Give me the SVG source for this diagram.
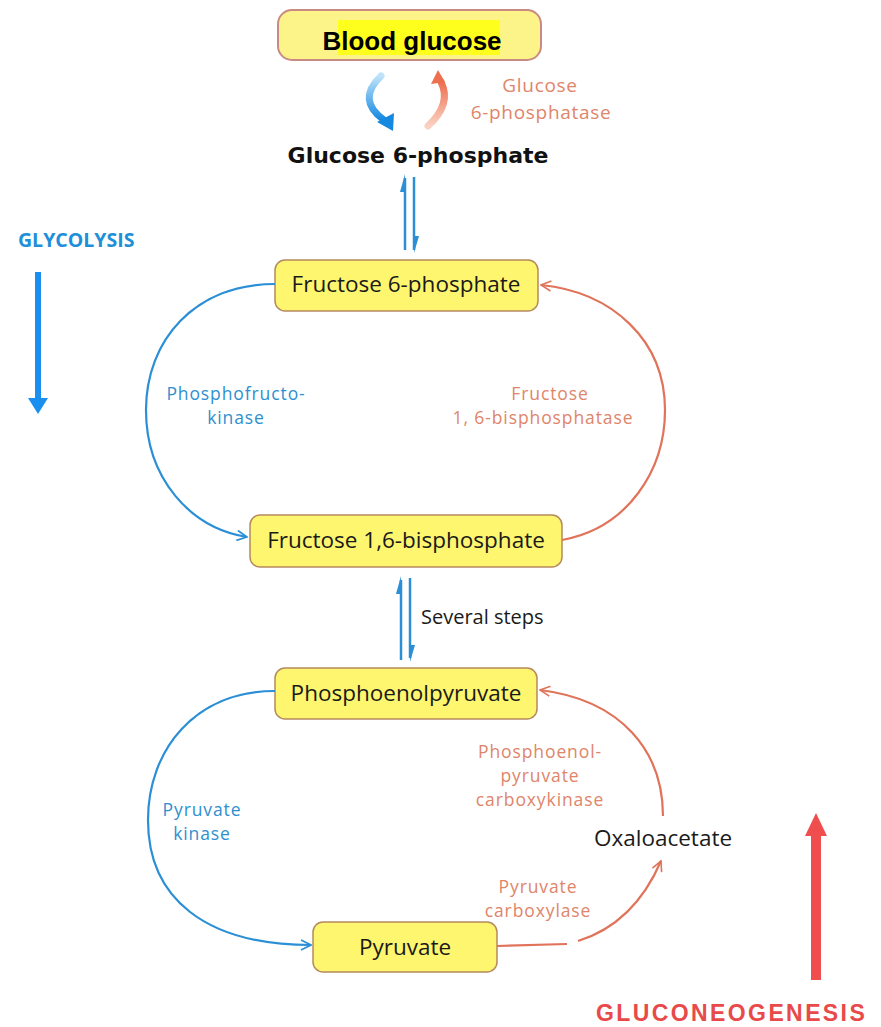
<svg xmlns="http://www.w3.org/2000/svg" width="881" height="1027" viewBox="0 0 881 1027">
<style>
.box{fill:#fdf66e;stroke:#b58a5e;stroke-width:1.5}
.bt{font-family:"Open Sans","Noto Sans",sans-serif;font-size:22.5px;fill:#1a1a1a;text-anchor:middle}
.bl{font-family:"Open Sans","Noto Sans",sans-serif;font-size:17.5px;letter-spacing:0.9px;fill:#2e8fd0;text-anchor:middle}
.or{font-family:"Open Sans","Noto Sans",sans-serif;font-size:17.5px;letter-spacing:0.9px;fill:#e0856a;text-anchor:middle}
.cb{fill:none;stroke:#2b8fd6;stroke-width:2.2}
.co{fill:none;stroke:#e0735a;stroke-width:2.2}
</style>
<defs>
<marker id="hb" viewBox="0 0 12 12" refX="11" refY="6" markerWidth="12" markerHeight="12" markerUnits="userSpaceOnUse" orient="auto">
<path d="M1,1 L11,6 L1,11" fill="none" stroke="#2b8fd6" stroke-width="1.6"/>
</marker>
<marker id="ho" viewBox="0 0 12 12" refX="11" refY="6" markerWidth="12" markerHeight="12" markerUnits="userSpaceOnUse" orient="auto">
<path d="M1,1 L11,6 L1,11" fill="none" stroke="#e0735a" stroke-width="1.6"/>
</marker>
<linearGradient id="gb" x1="0" y1="0" x2="0" y2="1">
<stop offset="0" stop-color="#bfe3fa"/><stop offset="1" stop-color="#1588e0"/>
</linearGradient>
<linearGradient id="go" x1="0" y1="1" x2="0" y2="0">
<stop offset="0" stop-color="#fbd2c2"/><stop offset="1" stop-color="#ec6f4f"/>
</linearGradient>
</defs>

<g id="blood-glucose">
<rect x="278" y="10" width="263" height="50" rx="14" fill="#fcf489" stroke="#c98a84" stroke-width="2"/>
<rect x="338" y="20" width="162" height="35" fill="#ffff1e"/>
<text x="412" y="50" font-family="Liberation Sans,Arial,sans-serif" font-weight="bold" font-size="26" fill="#000" text-anchor="middle">Blood glucose</text>
</g>

<g id="glucose-6-phosphate">
<text x="418" y="163" font-family="DejaVu Sans,sans-serif" font-weight="bold" font-size="22" fill="#111" text-anchor="middle">Glucose 6-phosphate</text>
</g>

<g id="label-g6pase">
<text class="or" x="540" y="92" style="font-size:19px;letter-spacing:0.7px">Glucose</text>
<text class="or" x="541" y="119" style="font-size:19px;letter-spacing:0.7px">6-phosphatase</text>
</g>

<g id="fructose-6-phosphate">
<rect class="box" x="275" y="260" width="263" height="51" rx="10"/>
<text class="bt" x="406" y="292">Fructose 6-phosphate</text>
</g>

<g id="fructose-16-bisphosphate">
<rect class="box" x="250" y="515" width="312" height="52" rx="10"/>
<text class="bt" x="406" y="548">Fructose 1,6-bisphosphate</text>
</g>

<g id="phosphoenolpyruvate">
<rect class="box" x="275" y="668" width="262" height="51" rx="10"/>
<text class="bt" x="406" y="701">Phosphoenolpyruvate</text>
</g>

<g id="pyruvate">
<rect class="box" x="313" y="922" width="184" height="50" rx="10"/>
<text class="bt" x="405" y="955">Pyruvate</text>
</g>

<g id="oxaloacetate">
<text x="663" y="846" font-family="Open Sans,Noto Sans,sans-serif" font-size="22.5" fill="#1a1a1a" text-anchor="middle">Oxaloacetate</text>
</g>

<g id="labels">
<text class="bl" x="236" y="400">Phosphofructo-</text>
<text class="bl" x="236" y="424">kinase</text>
<text class="or" x="550" y="400">Fructose</text>
<text class="or" x="543" y="424">1, 6-bisphosphatase</text>
<text x="421" y="624" font-family="Open Sans,Noto Sans,sans-serif" font-size="20" fill="#1a1a1a">Several steps</text>
<text class="bl" x="202" y="816">Pyruvate</text>
<text class="bl" x="202" y="840">kinase</text>
<text class="or" x="540" y="758">Phosphoenol-</text>
<text class="or" x="540" y="782">pyruvate</text>
<text class="or" x="540" y="806">carboxykinase</text>
<text class="or" x="538" y="893">Pyruvate</text>
<text class="or" x="538" y="917">carboxylase</text>
</g>

<g id="glycolysis">
<text x="18" y="247" font-family="Open Sans,Noto Sans,sans-serif" font-weight="bold" font-size="19.5" fill="#1e8fd8">GLYCOLYSIS</text>
<rect x="35" y="272" width="6" height="128" fill="#1a8ff0"/>
<polygon points="28,398 48,398 38,414" fill="#1a8ff0"/>
</g>

<g id="gluconeogenesis">
<rect x="811" y="832" width="10" height="148" fill="#f04e4e"/>
<polygon points="805,836 827,836 816,813" fill="#f04e4e"/>
<text x="596" y="1021" font-family="Liberation Sans,Arial,sans-serif" font-weight="bold" font-size="23" letter-spacing="2.4" fill="#e84a4a">GLUCONEOGENESIS</text>
</g>

<g id="connectors">
<path d="M381,76 Q356,100 384,120" fill="none" stroke="url(#gb)" stroke-width="7" stroke-linecap="round"/>
<polygon points="377,122 394,113 393,131" fill="#1588e0"/>
<path d="M428,126 Q452,104 441,82" fill="none" stroke="url(#go)" stroke-width="7" stroke-linecap="round"/>
<polygon points="431,84 445,82 438,70" fill="#ec6f4f"/>
<path d="M405,250 L405,178" stroke="#2b8fd6" stroke-width="2.5" fill="none"/>
<polygon points="405,174 405,192 400,192" fill="#2b8fd6"/>
<path d="M414,177 L414,250" stroke="#2b8fd6" stroke-width="2.5" fill="none"/>
<polygon points="414,253 414,236 419,236" fill="#2b8fd6"/>
<path d="M401,660 L401,580" stroke="#2b8fd6" stroke-width="2.5" fill="none"/>
<polygon points="401,576 401,594 396,594" fill="#2b8fd6"/>
<path d="M410,578 L410,658" stroke="#2b8fd6" stroke-width="2.5" fill="none"/>
<polygon points="410,662 410,645 415,645" fill="#2b8fd6"/>
<path class="cb" d="M275,284 C195,284 146,340 146,410 C146,478 190,528 247,537" marker-end="url(#hb)"/>
<path class="co" d="M562,540 C628,528 665,470 665,410 C665,340 612,292 541,285" marker-end="url(#ho)"/>
<path class="cb" d="M275,691 C195,691 148,750 148,820 C148,898 205,945 311,945" marker-end="url(#hb)"/>
<path class="co" d="M663,816 C663,752 622,700 540,690" marker-end="url(#ho)"/>
<path class="co" d="M497,946 L567,944"/>
<path class="co" d="M578,941 C620,928 645,898 661,861" marker-end="url(#ho)"/>
</g>
</svg>
